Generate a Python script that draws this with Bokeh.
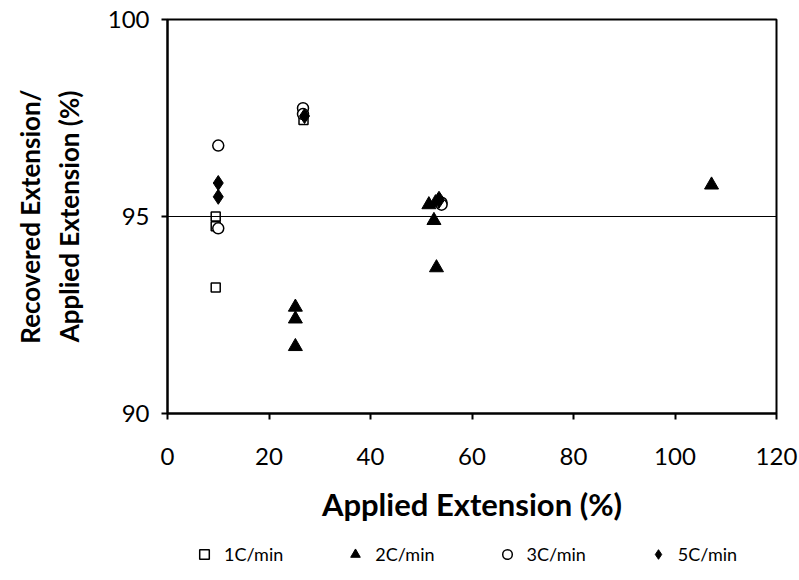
from bokeh.plotting import figure
from bokeh.layouts import column
from bokeh.models import Legend, LegendItem, Span, Range1d, FixedTicker
from bokeh.embed import file_html
from bokeh.resources import INLINE

# Data
x_1c = [9.5, 9.5, 9.5, 26.8]
y_1c = [95.0, 94.75, 93.2, 97.45]

x_2c = [25.2, 25.2, 25.2, 51.5, 52.5, 53.0, 52.8, 107.2]
y_2c = [92.7, 92.4, 91.7, 95.3, 94.9, 93.7, 95.35, 95.8]

x_3c = [10.0, 10.0, 26.7, 26.7, 54.0, 54.0]
y_3c = [96.8, 94.7, 97.75, 97.6, 95.35, 95.3]

x_5c = [10.0, 10.0, 27.0, 53.5, 53.5]
y_5c = [95.85, 95.5, 97.55, 95.45, 95.4]

series_names = ["1C/min", "2C/min", "3C/min", "5C/min"]
x_ticks = [0, 20, 40, 60, 80, 100, 120]
y_ticks = [90, 95, 100]
ref_line = 95

FONT = "Lato"

styles = [
    dict(marker="square", size=9, fill_color="white", line_color="black", line_width=1.5),
    dict(marker="triangle", size=14, fill_color="black", line_color="black", line_width=1),
    dict(marker="circle", size=11, fill_color="white", line_color="black", line_width=1.5),
    dict(marker="diamond", size=15, fill_color="black", line_color="black", line_width=1),
]

p = figure(width=799, height=530, output_backend="svg", toolbar_location=None,
           x_range=Range1d(0, 120), y_range=Range1d(90, 100),
           min_border_left=167, min_border_right=23, min_border_top=19,
           min_border_bottom=117)
p.xgrid.visible = False
p.ygrid.visible = False
p.outline_line_color = "black"
p.outline_line_width = 2

for ax in (p.xaxis[0], p.yaxis[0]):
    ax.axis_line_color = "black"
    ax.axis_line_width = 2
    ax.major_tick_line_color = "black"
    ax.major_tick_line_width = 2
    ax.major_tick_out = 6
    ax.major_tick_in = 0
    ax.minor_tick_line_color = None
    ax.major_label_text_font = FONT
    ax.major_label_text_font_size = "24px"
    ax.major_label_text_color = "black"
    ax.axis_label_text_font = FONT
    ax.axis_label_text_font_style = "bold"
    ax.axis_label_text_color = "black"

p.xaxis[0].axis_label_text_font_size = "31px"
p.yaxis[0].axis_label_text_font_size = "26px"
p.xaxis[0].ticker = FixedTicker(ticks=x_ticks)
p.yaxis[0].ticker = FixedTicker(ticks=y_ticks)
p.xaxis[0].axis_label = "Applied Extension (%)"
p.yaxis[0].axis_label = "Recovered Extension/\nApplied Extension (%)"
p.xaxis[0].major_label_standoff = 28
p.xaxis[0].axis_label_standoff = 17
p.yaxis[0].major_label_standoff = 12
p.yaxis[0].axis_label_standoff = 20

p.add_layout(Span(location=ref_line, dimension="width", line_color="black", line_width=1))

p.scatter(x_1c, y_1c, **styles[0])
p.scatter(x_2c, y_2c, **styles[1])
p.scatter(x_3c, y_3c, **styles[2])
p.scatter(x_5c, y_5c, **styles[3])

# Legend strip below the chart (dummy one-row renderers, never visible)
nan = float("nan")
q = figure(width=799, height=50, output_backend="svg", toolbar_location=None,
           x_axis_type=None, y_axis_type=None, x_range=Range1d(0, 1), y_range=Range1d(0, 1),
           min_border_left=0, min_border_right=0, min_border_top=0, min_border_bottom=0)
q.outline_line_color = None
q.xgrid.visible = False
q.ygrid.visible = False
dummies = [q.scatter([nan], [nan], **s) for s in styles]
legend = Legend(items=[LegendItem(label=n, renderers=[r]) for n, r in zip(series_names, dummies)],
                orientation="horizontal", location=(25, 14),
                label_text_font=FONT, label_text_font_size="18px",
                label_text_color="black", border_line_color=None,
                background_fill_alpha=0, spacing=60, glyph_width=24, glyph_height=24,
                label_standoff=8, margin=0, padding=4)
q.add_layout(legend, "center")

open("out.html", "w").write(file_html(column(p, q, spacing=0), INLINE))
